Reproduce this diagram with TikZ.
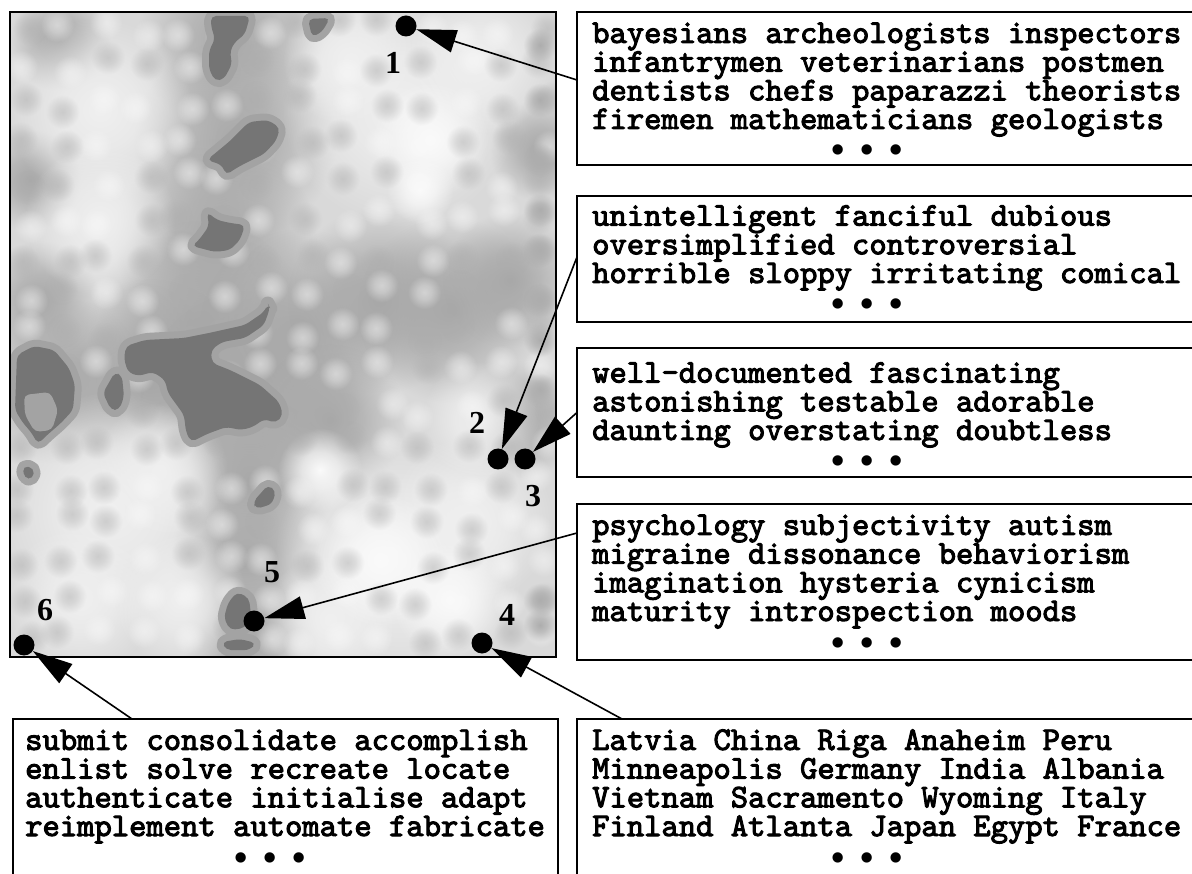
\documentclass[tikz,border=0pt]{standalone}
\usepackage{fontspec}
\newfontfamily\numfamily{Liberation Serif}
\newfontfamily\wordfamily{lmmono10-regular.otf}[FakeBold=3]
\usetikzlibrary{arrows.meta, fadings}

\pgfdeclareradialshading{blurblob}{\pgfpointorigin}{color(0bp)=(pgftransparent!0); color(9bp)=(pgftransparent!30); color(21bp)=(pgftransparent!100); color(30bp)=(pgftransparent!100)}
\pgfdeclarefading{blur}{\pgfuseshading{blurblob}}

\tikzstyle{mapframe} = [draw=black, line width=1.8pt]
\tikzstyle{haze} = [path fading=blur]
\tikzstyle{blot} = [fill=black!54, rounded corners=5pt, preaction={draw=black!36, fill=black!36, line width=14pt, line join=round}]
\tikzstyle{wordbox} = [draw=black, line width=1.5pt, anchor=north west, inner sep=0pt, outer sep=0pt]
\tikzstyle{wordlist} = [font=\wordfamily\bfseries\fontsize{33}{28.7}\selectfont, align=left, anchor=base west, inner sep=0pt]
\tikzstyle{spot} = [circle, fill=black, minimum size=21pt, inner sep=0pt]
\tikzstyle{num} = [font=\numfamily\bfseries\fontsize{32}{32}\selectfont, inner sep=0pt]
\tikzstyle{arrow} = [line width=1.6pt, -{Triangle[length=40pt, width=23pt]}]

\newcommand{\moredots}{{\numfamily\fontsize{38}{28.7}\selectfont •\kern16pt•\kern16pt•}}

\begin{document}
\begin{tikzpicture}[x=1pt, y=-1pt]
\useasboundingbox (0,0) rectangle (1192,874);

% the map
\begin{scope}
  \clip (10,12) rectangle (556,657);
  \fill[black!15] (10,12) rectangle (556,657);
  % broad tones
  \foreach \x/\y/\r in {230/40/110, 235/140/120, 215/240/120, 200/330/130, 150/380/120, 250/400/130,
      300/330/120, 380/300/110, 450/310/110, 510/280/80, 330/420/90, 250/480/100, 245/560/90,
      250/640/80, 60/380/100, 40/300/70, 30/180/60, 520/420/70, 540/150/60, 60/40/60}
    \fill[black!34, haze] (\x,\y) circle (\r);
  \foreach \x/\y/\r in {100/110/110, 100/220/90, 400/110/140, 480/60/90, 350/60/80, 110/510/140,
      80/600/90, 180/600/80, 400/560/150, 470/520/100, 330/620/80, 480/420/70, 160/470/80}
    \fill[black!6, haze] (\x,\y) circle (\r);
  \foreach \x/\y/\r in {430/140/70, 420/190/40, 380/560/80, 450/600/70, 320/470/50}
    \fill[black!2, haze] (\x,\y) circle (\r);
  % small spots
  \pgfmathsetseed{11}
  \foreach \i in {0,...,13}{
    \foreach \j in {0,...,16}{
      \pgfmathsetmacro\sx{24+40*\i+9*rand}
      \pgfmathsetmacro\sy{28+38*\j+9*rand}
      \pgfmathsetmacro\sl{rnd>0.5 ? 2 : 32}
      \fill[black!\sl, haze, opacity=0.5] (\sx,\sy) circle (20);
    }
  }
  \foreach \y in {45,100,160,210,250,300,340,390,600,625}
    \fill[black!32, haze] (540,\y) circle (20);
  % dark patches
  \fill[blot] (211,16) -- (250,16) -- (245,34) -- (234,43) -- (230,52) -- (232,64) -- (224,79) -- (215,81)
    -- (209,69) -- (209,51) -- (215,39) -- (211,26) -- cycle;
  \fill[blot] (308,19) -- (330,18) -- (322,32) -- (312,37) -- cycle;
  \fill[blot] (207,160) -- (230,141) -- (249,122) -- (268,120) -- (280,128) -- (276,141) -- (264,154)
    -- (238,167) -- (226,175) -- (222,165) -- cycle;
  \fill[blot] (207,212) -- (217,220) -- (230,223) -- (245,225) -- (240,240) -- (230,250) -- (215,252)
    -- (192,246) -- (199,240) -- (209,226) -- cycle;
  \fill[blot] (126,346) -- (145,340) -- (184,338) -- (209,333) -- (245,325) -- (264,312) -- (268,304)
    -- (270,308) -- (264,325) -- (245,338) -- (222,342) -- (211,350) -- (212,363) -- (230,370)
    -- (260,385) -- (279,402) -- (283,415) -- (276,423) -- (264,419) -- (253,427) -- (241,430)
    -- (226,427) -- (207,434) -- (191,442) -- (186,432) -- (184,415) -- (176,404) -- (168,393)
    -- (165,380) -- (153,372) -- (138,376) -- (128,372) -- (124,359) -- cycle;
  \fill[blot] (103,393) -- (115,372) -- (122,376) -- (124,397) -- (119,410) -- (111,410) -- cycle;
  \fill[blot] (17,355) -- (34,346) -- (54,350) -- (69,368) -- (75,385) -- (73,410) -- (61,423)
    -- (46,436) -- (38,444) -- (31,432) -- (23,423) -- (15,410) -- cycle;
  \fill[black!36, rounded corners=5pt] (24,395) -- (50,392) -- (58,410) -- (52,430) -- (35,432) -- (25,415) -- cycle;
  \fill[blot] (268,485) -- (276,491) -- (272,504) -- (256,509) -- (253,502) -- cycle;
  \fill[blot] (237,592) -- (249,598) -- (251,615) -- (245,628) -- (230,630) -- (224,618) -- (228,603) -- cycle;
  \fill[blot] (222,642) -- (240,639) -- (256,643) -- (250,650) -- (226,650) -- cycle;
  \fill[blot] (23,466) -- (34,468) -- (33,479) -- (24,478) -- cycle;
\end{scope}
\draw[mapframe] (10,12) rectangle (556,657);

% points on the map
\node[spot] (p1) at (406,26) {};
\node[spot] (p2) at (498,459) {};
\node[spot] (p3) at (525,459) {};
\node[spot] (p4) at (482,643) {};
\node[spot] (p5) at (254,621) {};
\node[spot] (p6) at (24,645) {};

\node[num] (n1) at (393,63) {1};
\node[num] (n2) at (477,423) {2};
\node[num] (n3) at (533,496) {3};
\node[num] (n4) at (507,615) {4};
\node[num] (n5) at (272,572) {5};
\node[num] (n6) at (45,610) {6};

% word lists (anchored at the baseline of the dots line)
\node[wordbox, minimum width=700pt, minimum height=153pt] (box1) at (577,12) {};
\node[wordbox, minimum width=700pt, minimum height=126pt] (box2) at (577,196) {};
\node[wordbox, minimum width=700pt, minimum height=129pt] (box3) at (577,348) {};
\node[wordbox, minimum width=700pt, minimum height=156pt] (box5) at (577,504) {};
\node[wordbox, minimum width=545pt, minimum height=200pt] (box6) at (13,719) {};
\node[wordbox, minimum width=700pt, minimum height=200pt] (box4) at (577,719) {};

\node[wordlist] (w1) at (592,163) {bayesians archeologists inspectors\\infantrymen veterinarians postmen\\dentists chefs paparazzi theorists\\firemen mathematicians geologists\\[5.3pt]\hspace*{239pt}\moredots};
\node[wordlist] (w2) at (592,317) {unintelligent fanciful dubious\\oversimplified controversial\\horrible sloppy irritating comical\\[5.3pt]\hspace*{239pt}\moredots};
\node[wordlist] (w3) at (592,474) {well-documented fascinating\\astonishing testable adorable\\daunting overstating doubtless\\[5.3pt]\hspace*{239pt}\moredots};
\node[wordlist] (w5) at (592,655) {psychology subjectivity autism\\migraine dissonance behaviorism\\imagination hysteria cynicism\\maturity introspection moods\\[5.3pt]\hspace*{239pt}\moredots};
\node[wordlist] (w6) at (25,870) {submit consolidate accomplish\\enlist solve recreate locate\\authenticate initialise adapt\\reimplement automate fabricate\\[5.3pt]\hspace*{209pt}\moredots};
\node[wordlist] (w4) at (592,870) {Latvia China Riga Anaheim Peru\\Minneapolis Germany India Albania\\Vietnam Sacramento Wyoming Italy\\Finland Atlanta Japan Egypt France\\[5.3pt]\hspace*{239pt}\moredots};

% pointers
\draw[arrow] ([yshift=8.5pt]box1.west) -- (p1);
\draw[arrow] ([yshift=2pt]box2.west) -- (p2);
\draw[arrow] (box3.west) -- (p3);
\draw[arrow] ([yshift=49pt]box5.west) -- (p5);
\draw[arrow] ([xshift=45pt]box4.north west) -- (p4);
\draw[arrow] ([xshift=119pt]box6.north west) -- (p6);
\end{tikzpicture}
\end{document}
